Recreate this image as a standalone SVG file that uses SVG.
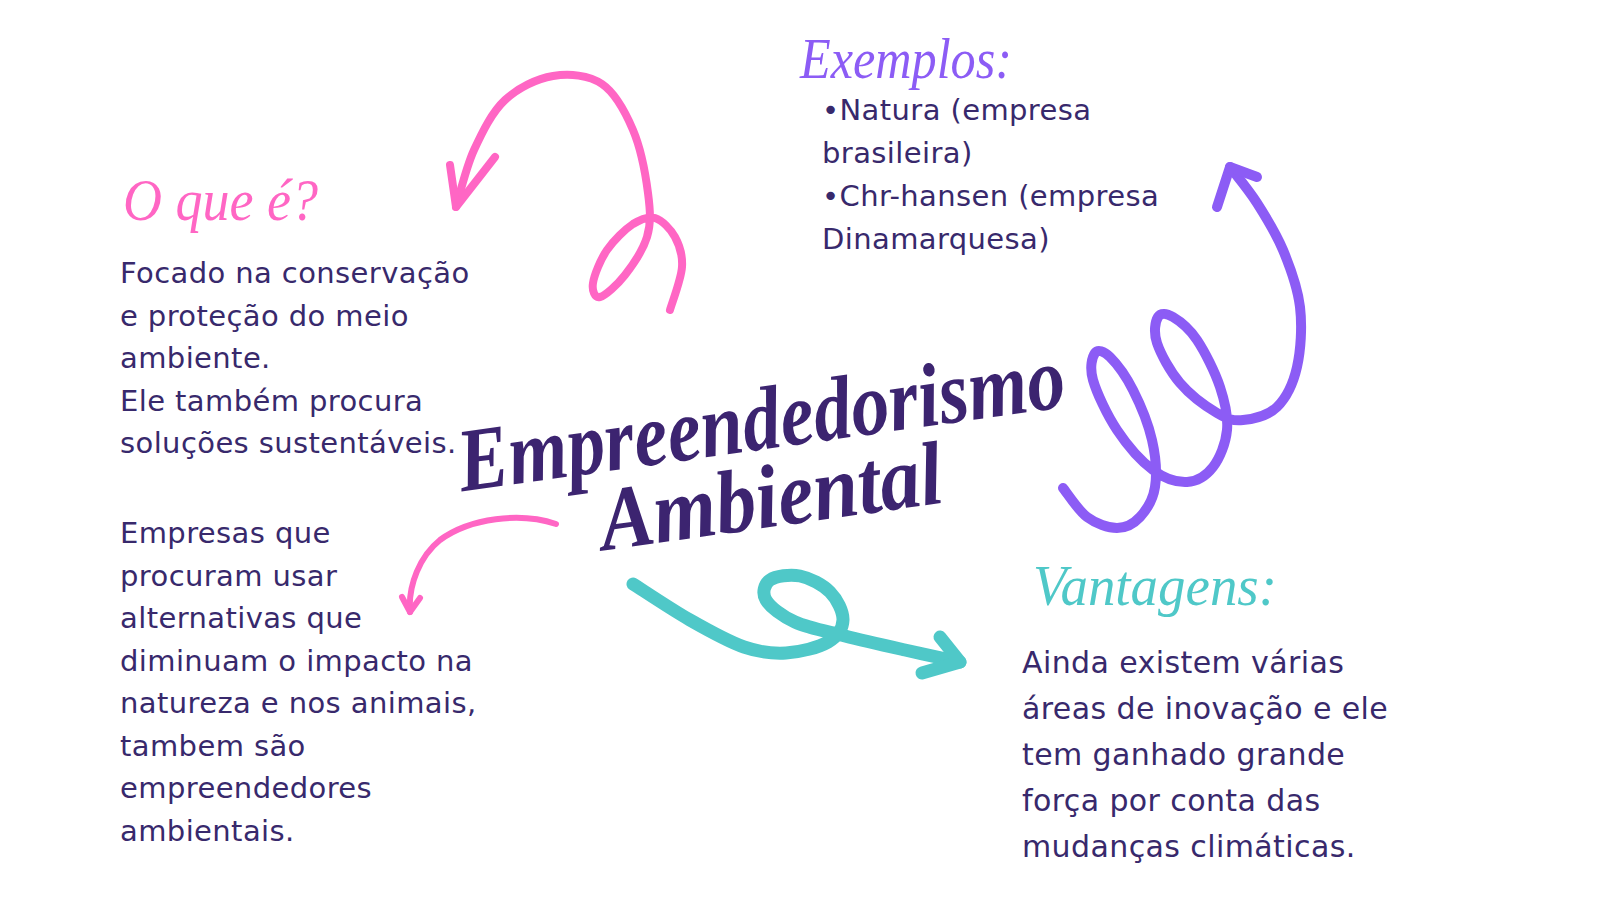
<svg xmlns="http://www.w3.org/2000/svg" width="1600" height="900" viewBox="0 0 1600 900">
<style>
.body{font-family:"DejaVu Sans","Liberation Sans",sans-serif;fill:#38296c;letter-spacing:0.4px}
.head{font-family:"Liberation Serif","DejaVu Serif",serif;font-style:italic}
.title{font-family:"Liberation Serif","DejaVu Serif",serif;font-style:italic;font-weight:700;fill:#3c2470}
.stroke{fill:none;stroke-linecap:round;stroke-linejoin:round}
</style>
<rect width="1600" height="900" fill="#ffffff"/>

<g id="connectors">
  <path class="stroke" stroke="#ff66c4" stroke-width="8" d="M456,207 C459,197.5 465.8,167.8 474,150 C482.2,132.2 491.8,112.3 505,100 C518.2,87.7 536.8,78.7 553,76 C569.2,73.3 588.7,75 602,84 C615.3,93 625.3,111.8 633,130 C640.7,148.2 645.7,175.2 648,193 C650.3,210.8 651.2,223.3 647,237 C642.8,250.7 632.8,265 625,275 C617.2,285 605.3,295.7 600,297 C594.7,298.3 591.8,290.8 593,283 C594.2,275.2 600.3,259.8 607,250 C613.7,240.2 625,229.3 633,224 C641,219 648,215.8 655,218 C662,220.2 670.5,228.8 675,237 C679.5,245.2 682.8,254.8 682,267 C681.2,279.2 672,302.8 670,310"/>
  <path class="stroke" stroke="#ff66c4" stroke-width="8" d="M450,165 L456,207 L495,157"/>

  <path class="stroke" stroke="#ff66c4" stroke-width="6" d="M556,524 C520,512 470,518 440,540 C420,556 408,585 410,612"/>
  <path class="stroke" stroke="#ff66c4" stroke-width="6" d="M402,597 L410,612 L420,598"/>

  <path class="stroke" stroke="#4fc8c8" stroke-width="13" d="M633,584 C642.5,590 671.5,609.5 690,620 C708.5,630.5 728,641.5 744,647 C760,652.5 772,653.8 786,653 C800,652.2 818.5,647.5 828,642 C837.5,636.5 842.7,628.3 843,620 C843.3,611.7 837.2,599.3 830,592 C822.8,584.7 810,578 800,576 C790,574 775.7,576 770,580 C764.3,584 761.8,593 766,600 C770.2,607 781.8,616 795,622 C808.2,628 826.7,631.3 845,636 C863.3,640.7 885.8,645.7 905,650 C924.2,654.3 950.8,660 960,662"/>
  <path class="stroke" stroke="#4fc8c8" stroke-width="13" d="M940,637 L960,662 L922,673"/>

  <path class="stroke" stroke="#8c5cf5" stroke-width="10" d="M1063,488 C1067,492.8 1078,510.3 1087,517 C1096,523.7 1108.2,528 1117,528 C1125.8,528 1133.7,523.8 1140,517 C1146.3,510.2 1153,499.8 1155,487 C1157,474.2 1155.7,456.2 1152,440 C1148.3,423.8 1140,403.8 1133,390 C1126,376.2 1116.3,363.2 1110,357 C1103.7,350.8 1097.8,349.2 1095,353 C1092.2,356.8 1089.3,367.2 1093,380 C1096.7,392.8 1107,415 1117,430 C1127,445 1141.3,461.3 1153,470 C1164.7,478.7 1177,482.5 1187,482 C1197,481.5 1206.3,475.7 1213,467 C1219.7,458.3 1225.8,443.3 1227,430 C1228.2,416.7 1225,402 1220,387 C1215,372 1204.8,351.7 1197,340 C1189.2,328.3 1179.5,320.8 1173,317 C1166.5,313.2 1160.7,312.7 1158,317 C1155.3,321.3 1153.3,332 1157,343 C1160.7,354 1170,371.3 1180,383 C1190,394.7 1206.5,406.8 1217,413 C1227.5,419.2 1233,421 1243,420 C1253,419 1268,415.8 1277,407 C1286,398.2 1293.2,383.7 1297,367 C1300.8,350.3 1302.3,326.5 1300,307 C1297.7,287.5 1290.2,267.3 1283,250 C1275.8,232.7 1265.8,216.8 1257,203 C1248.2,189.2 1234.5,173 1230,167"/>
  <path class="stroke" stroke="#8c5cf5" stroke-width="10" d="M1217,207 L1230,167 L1257,177"/>
</g>

<g id="title">
  <g transform="rotate(-8 765 449)">
    <text class="title" x="765" y="449" font-size="90" text-anchor="middle" textLength="612" lengthAdjust="spacingAndGlyphs">Empreendedorismo</text>
    <text class="title" x="764" y="527" font-size="90" text-anchor="middle" textLength="345" lengthAdjust="spacingAndGlyphs">Ambiental</text>
  </g>
</g>

<g id="oque">
  <text class="head" x="123" y="220" font-size="60" fill="#ff66c4" textLength="195" lengthAdjust="spacingAndGlyphs">O que é?</text>
  <text class="body" font-size="29">
    <tspan x="120" y="283">Focado na conservação</tspan>
    <tspan x="120" y="325.5">e proteção do meio</tspan>
    <tspan x="120" y="368">ambiente.</tspan>
    <tspan x="120" y="410.5">Ele também procura</tspan>
    <tspan x="120" y="453">soluções sustentáveis.</tspan>
  </text>
</g>

<g id="empresas">
  <text class="body" font-size="29">
    <tspan x="120" y="543">Empresas que</tspan>
    <tspan x="120" y="585.5">procuram usar</tspan>
    <tspan x="120" y="628">alternativas que</tspan>
    <tspan x="120" y="670.5">diminuam o impacto na</tspan>
    <tspan x="120" y="713">natureza e nos animais,</tspan>
    <tspan x="120" y="755.5">tambem são</tspan>
    <tspan x="120" y="798">empreendedores</tspan>
    <tspan x="120" y="840.5">ambientais.</tspan>
  </text>
</g>

<g id="exemplos">
  <text class="head" x="800" y="78" font-size="58" fill="#8c5cf5" textLength="212" lengthAdjust="spacingAndGlyphs">Exemplos:</text>
  <text class="body" font-size="29">
    <tspan x="822" y="120">•Natura (empresa</tspan>
    <tspan x="822" y="163">brasileira)</tspan>
    <tspan x="822" y="206">•Chr-hansen (empresa</tspan>
    <tspan x="822" y="249">Dinamarquesa)</tspan>
  </text>
</g>

<g id="vantagens">
  <text class="head" x="1033" y="605" font-size="58" fill="#4fc8c8" textLength="244" lengthAdjust="spacingAndGlyphs">Vantagens:</text>
  <text class="body" font-size="30">
    <tspan x="1022" y="673">Ainda existem várias</tspan>
    <tspan x="1022" y="719">áreas de inovação e ele</tspan>
    <tspan x="1022" y="765">tem ganhado grande</tspan>
    <tspan x="1022" y="811">força por conta das</tspan>
    <tspan x="1022" y="857">mudanças climáticas.</tspan>
  </text>
</g>
</svg>
